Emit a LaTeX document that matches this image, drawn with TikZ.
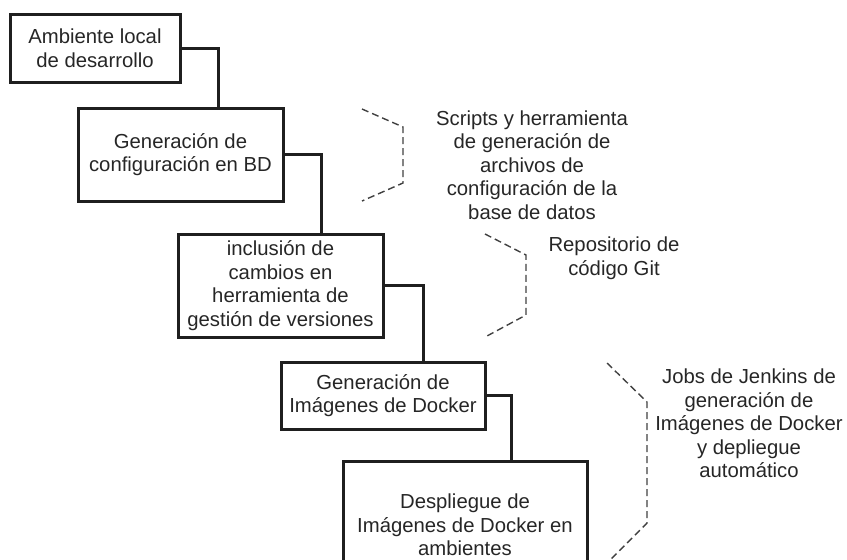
\documentclass[tikz,border=0pt]{standalone}
\usepackage{fontspec}
\setmainfont{Liberation Sans}
\usepackage{tikz}
\usetikzlibrary{positioning, calc}

\tikzset{
    stagebox/.style={draw=black!88, line width=3pt, align=center, inner sep=0pt,
        font=\fontsize{20.3}{23.5}\selectfont, text=black!85},
    link/.style={draw=black!88, line width=3pt},
    bracket/.style={draw=black!75, line width=1.4pt, dash pattern=on 7pt off 4pt},
    note/.style={align=center, font=\fontsize{20.3}{23.5}\selectfont, text=black!85}
}

\begin{document}
\begin{tikzpicture}[x=1pt, y=-1pt]
            \useasboundingbox (0,0) rectangle (847,560);
            \clip (0,0) rectangle (847,560);

            % Stages
            \node[stagebox, minimum width=170pt, minimum height=68pt] (local) at (95,48) {Ambiente local\\de desarrollo};
            \node[stagebox, minimum width=205pt, minimum height=93pt] (config) at (180.5,154.5) {Generación de\\configuración en BD};
            \node[stagebox, minimum width=205pt, minimum height=103pt] (git) at (280.5,285.5) {inclusión de\\cambios en\\herramienta de\\gestión de versiones};
            \node[stagebox, minimum width=204pt, minimum height=67pt] (images) at (383,395.5) {Generación de\\Imágenes de Docker};
            \node[stagebox, minimum width=244pt, minimum height=128pt] (deploy) at (465,525) {Despliegue de\\Imágenes de Docker en\\ambientes};

            % Elbow links
            \coordinate (inConfig) at ([xshift=142pt]config.north west);
            \coordinate (inGit) at ([xshift=145pt]git.north west);
            \coordinate (inImages) at ([xshift=144pt]images.north west);
            \coordinate (inDeploy) at ([xshift=170pt]deploy.north west);
            \draw[link] (local.east) -| (inConfig);
            \draw[link] (config.east) -| (inGit);
            \draw[link] (git.east) -| (inImages);
            \draw[link] (images.east) -| (inDeploy);

            % Dashed brackets
            \draw[bracket] (362,109) -- (403,127) -- (403,183) -- (362,201);
            \draw[bracket] (485,234) -- (526,255) -- (526,315) -- (487,336);
            \draw[bracket] (607,363) -- (647,402) -- (647,523) -- (608,562);

            % Notes
            \node[note] (scripts) at (532,165) {Scripts y herramienta\\de generación de\\archivos de\\configuración de la\\base de datos};
            \node[note] (repo) at (614,258) {Repositorio de\\código Git};
            \node[note] (jobs) at (749,423.5) {Jobs de Jenkins de\\generación de\\Imágenes de Docker\\y depliegue\\automático};
\end{tikzpicture}
\end{document}
